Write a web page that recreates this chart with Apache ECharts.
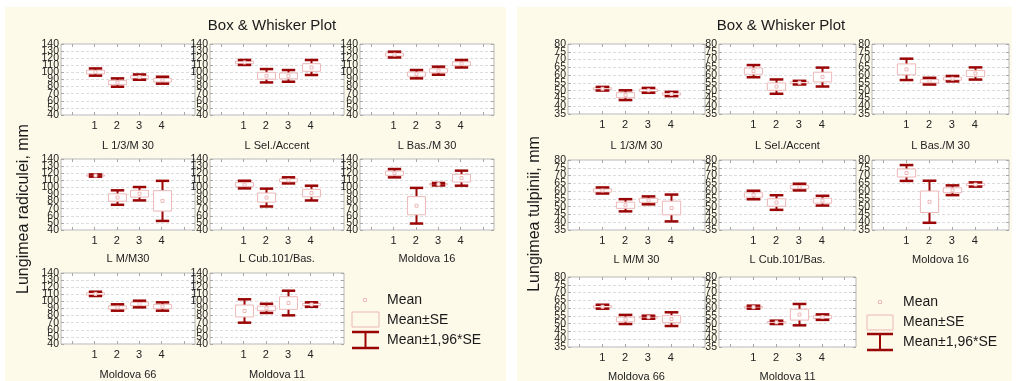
<!DOCTYPE html>
<html>
<head>
<meta charset="utf-8">
<script src="https://cdn.jsdelivr.net/npm/echarts@6/dist/echarts.min.js"></script>
<style>html,body{margin:0;padding:0;background:#fff;}#c{width:1017px;height:381px;}</style>
</head>
<body>
<div id="c"></div>
<script>
// ---- data ----
const xCategories = ['', '1', '2', '3', '4', ''];
const radGroups = ['L 1/3/M 30', 'L Sel./Accent', 'L Bas./M 30', 'L M/M30', 'L Cub.101/Bas.', 'Moldova 16', 'Moldova 66', 'Moldova 11'];
const tulGroups = ['L 1/3/M 30', 'L Sel./Accent', 'L Bas./M 30', 'L M/M 30', 'L Cub.101/Bas.', 'Moldova 16', 'Moldova 66', 'Moldova 11'];
const radTicks = [40, 50, 60, 70, 80, 90, 100, 110, 120, 130, 140];
const tulTicks = [35, 40, 45, 50, 55, 60, 65, 70, 75, 80];
const radMean = [
  [100.5, 85.7, 93.4, 89.0],
  [114.0, 95.3, 95.1, 106.9],
  [125.1, 97.5, 102.4, 112.2],
  [116.7, 85.7, 91.1, 81.0],
  [104.0, 85.7, 109.9, 92.0],
  [120.0, 74.2, 104.5, 113.0],
  [110.6, 91.4, 96.3, 92.8],
  [86.5, 90.2, 97.7, 95.6]
];
const radSE = [
  [2.6, 3.0, 1.9, 2.5],
  [1.8, 4.8, 4.2, 5.4],
  [2.1, 3.0, 2.9, 2.7],
  [0.8, 5.2, 4.8, 14.4],
  [2.75, 6.4, 2.2, 5.3],
  [3.0, 12.8, 0.9, 5.4],
  [1.55, 2.3, 2.4, 3.0],
  [8.4, 3.3, 8.85, 1.6]
];
const tulMean = [
  [51.25, 47.1, 50.2, 47.85],
  [62.55, 52.6, 55.15, 58.75],
  [63.7, 56.1, 57.7, 61.05],
  [60.4, 50.9, 54.05, 49.15],
  [57.5, 52.65, 62.6, 53.85],
  [71.65, 53.15, 60.55, 64.25],
  [60.9, 52.7, 54.15, 52.9],
  [60.6, 50.85, 55.8, 54.2]
];
const tulSE = [
  [0.6, 1.6, 0.8, 0.7],
  [2.0, 2.35, 0.6, 3.1],
  [3.5, 1.1, 0.9, 2.0],
  [1.0, 2.0, 1.3, 4.4],
  [1.4, 2.4, 1.1, 1.6],
  [2.6, 6.9, 1.6, 0.7],
  [0.65, 1.5, 0.5, 2.25],
  [0.5, 0.55, 3.5, 0.9]
];

// ---- styling / layout ----
const DARK = '#9a0505';
const PINK = '#ecb8b8';
const CREAM = '#fdfaea';
const FONT = 'Liberation Sans, Arial, sans-serif';

const panels = [
  { groups: radGroups, mean: radMean, se: radSE, ticks: radTicks,
    cols: [61, 210, 360], rows: [44, 159, 273], w: 134, h: 71, subY: [146, 259, 375],
    bg: [5, 7, 501, 374], titleX: 272, yTitle: 'Lungimea radiculei, mm', yTitleX: 24, yTitleY: 209,
    leg: { sq: [365, 300], box: [352, 312, 27, 15], caps: [332, 348], textX: 387, textY: [300, 320, 340] } },
  { groups: tulGroups, mean: tulMean, se: tulSE, ticks: tulTicks,
    cols: [568, 719, 872], rows: [44, 160, 277], w: 137, h: 70, subY: [146, 260, 377],
    bg: [517, 7, 495, 374], titleX: 781, yTitle: 'Lungimea tulpinii, mm', yTitleX: 535, yTitleY: 214,
    leg: { sq: [880, 302], box: [867, 315, 26, 15], caps: [334, 350], textX: 903, textY: [302, 322, 342] } }
];

function renderBox(params, api) {
  const x = api.value(0), m = api.value(1), s = api.value(2);
  const bw = api.size([1, 0])[0];
  const c = api.coord([x, m]);
  const seHi = api.coord([x, m + s])[1], seLo = api.coord([x, m - s])[1];
  const wHi = api.coord([x, m + 1.96 * s])[1], wLo = api.coord([x, m - 1.96 * s])[1];
  const boxW = bw * 0.8, capW = bw * 0.6;
  const cx = Math.round(c[0]) + 0.5;
  return { type: 'group', children: [
    { type: 'line', shape: { x1: cx, y1: wHi, x2: cx, y2: wLo }, style: { stroke: DARK, lineWidth: 2 } },
    { type: 'rect', shape: { x: cx - boxW / 2, y: seHi, width: boxW, height: seLo - seHi }, style: { fill: '#fff', stroke: PINK, lineWidth: 1 } },
    { type: 'line', shape: { x1: cx - capW / 2, y1: wHi, x2: cx + capW / 2, y2: wHi }, style: { stroke: DARK, lineWidth: 2.5 } },
    { type: 'line', shape: { x1: cx - capW / 2, y1: wLo, x2: cx + capW / 2, y2: wLo }, style: { stroke: DARK, lineWidth: 2.5 } },
    { type: 'rect', shape: { x: cx - 1.5, y: c[1] - 1.5, width: 3, height: 3 }, style: { fill: '#fff', stroke: PINK, lineWidth: 1 } }
  ] };
}

const grid = [], xAxis = [], yAxis = [], series = [], graphic = [];
let gi = 0;
panels.forEach(p => {
  graphic.push({ type: 'rect', z: -100, shape: { x: p.bg[0], y: p.bg[1], width: p.bg[2], height: p.bg[3] }, style: { fill: CREAM } });
  graphic.push({ type: 'text', x: p.titleX, y: 26, style: { text: 'Box & Whisker Plot', font: '15px ' + FONT, fill: '#1a1a1a', textAlign: 'center', textVerticalAlign: 'middle' } });
  graphic.push({ type: 'text', x: p.yTitleX, y: p.yTitleY, rotation: Math.PI / 2, style: { text: p.yTitle, font: '16px ' + FONT, fill: '#1a1a1a', textAlign: 'center', textVerticalAlign: 'middle' } });
  const tmin = p.ticks[0], tmax = p.ticks[p.ticks.length - 1], tint = p.ticks[1] - p.ticks[0];
  const evenTicks = p.ticks.filter((v, i) => i % 2 === 0);
  const oddTicks = p.ticks.filter((v, i) => i % 2 === 1);
  p.groups.forEach((name, g) => {
    const r = Math.floor(g / 3), col = g % 3;
    const left = p.cols[col], top = p.rows[r];
    grid.push({ left: left, top: top, width: p.w, height: p.h, show: true, backgroundColor: '#fff', borderColor: '#b8b8b8', borderWidth: 1 });
    const tick = { show: true, inside: true, length: 3, interval: 0, alignWithLabel: true, lineStyle: { color: '#a8a8a8' } };
    xAxis.push({ gridIndex: gi, type: 'category', data: xCategories, position: 'bottom',
      axisLine: { show: false }, axisTick: tick, splitLine: { show: false },
      axisLabel: { interval: 0, fontSize: 11, color: '#222', margin: 5, fontFamily: FONT } });
    xAxis.push({ gridIndex: gi, type: 'category', data: xCategories, position: 'top',
      axisLine: { show: false }, axisTick: tick, axisLabel: { show: false }, splitLine: { show: false } });
    const ytick = { show: true, inside: true, length: 3, lineStyle: { color: '#a8a8a8' } };
    const ylab = { fontSize: 10.5, color: '#222', margin: 2, fontFamily: FONT };
    const base = 3 * gi;
    yAxis.push({ gridIndex: gi, type: 'value', min: tmin, max: tmax, interval: tint, position: 'left',
      axisLine: { show: false }, axisTick: ytick,
      axisLabel: Object.assign({ customValues: evenTicks }, ylab),
      splitLine: { show: true, lineStyle: { color: '#dcdcdc', type: [3, 2], width: 1 } } });
    yAxis.push({ gridIndex: gi, type: 'value', min: tmin, max: tmax, interval: tint, position: 'left', offset: 0,
      axisLine: { show: false }, axisTick: { show: false },
      axisLabel: Object.assign({ customValues: oddTicks }, ylab),
      splitLine: { show: false } });
    yAxis.push({ gridIndex: gi, type: 'value', min: tmin, max: tmax, interval: tint, position: 'right',
      axisLine: { show: false }, axisTick: ytick, axisLabel: { show: false }, splitLine: { show: false } });
    series.push({ type: 'custom', xAxisIndex: 2 * gi, yAxisIndex: base, renderItem: renderBox,
      encode: { x: 0, y: 1 }, clip: false,
      data: p.mean[g].map((m, i) => [i + 1, m, p.se[g][i]]) });
    graphic.push({ type: 'text', x: left + p.w / 2, y: p.subY[r], style: { text: name, font: '11px ' + FONT, fill: '#222', textAlign: 'center', textVerticalAlign: 'middle' } });
    gi++;
  });
  const L = p.leg;
  graphic.push({ type: 'rect', shape: { x: L.sq[0] - 1.5, y: L.sq[1] - 1.5, width: 3, height: 3 }, style: { fill: '#fff', stroke: PINK, lineWidth: 1 } });
  graphic.push({ type: 'rect', shape: { x: L.box[0], y: L.box[1], width: L.box[2], height: L.box[3] }, style: { fill: CREAM, stroke: PINK, lineWidth: 1 } });
  const cx = L.box[0] + L.box[2] / 2;
  graphic.push({ type: 'line', shape: { x1: cx, y1: L.caps[0], x2: cx, y2: L.caps[1] }, style: { stroke: DARK, lineWidth: 2 } });
  graphic.push({ type: 'line', shape: { x1: L.box[0], y1: L.caps[0], x2: L.box[0] + L.box[2], y2: L.caps[0] }, style: { stroke: DARK, lineWidth: 2.5 } });
  graphic.push({ type: 'line', shape: { x1: L.box[0], y1: L.caps[1], x2: L.box[0] + L.box[2], y2: L.caps[1] }, style: { stroke: DARK, lineWidth: 2.5 } });
  ['Mean', 'Mean±SE', 'Mean±1,96*SE'].forEach((t, i) => {
    graphic.push({ type: 'text', x: L.textX, y: L.textY[i], style: { text: t, font: '14px ' + FONT, fill: '#1a1a1a', textAlign: 'left', textVerticalAlign: 'middle' } });
  });
});

const chart = echarts.init(document.getElementById('c'), null, { renderer: 'canvas' });
chart.setOption({
  backgroundColor: '#fff',
  animation: false,
  textStyle: { fontFamily: FONT },
  grid: grid, xAxis: xAxis, yAxis: yAxis, series: series, graphic: graphic
});
</script>
</body>
</html>
